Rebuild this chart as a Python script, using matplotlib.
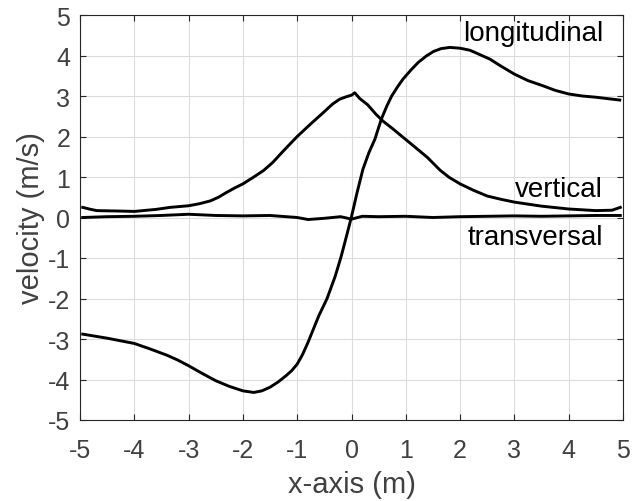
import matplotlib
matplotlib.use("Agg")
import matplotlib.pyplot as plt

plt.rcParams["font.family"] = ["Liberation Sans", "DejaVu Sans"]
plt.rcParams["axes.unicode_minus"] = False

# velocity components along the x-axis (m, m/s)
x_long = [-4.95, -4.5, -4.0, -3.7, -3.4, -3.2, -3.0, -2.75, -2.5, -2.25, -2.0,
          -1.8, -1.65, -1.5, -1.35, -1.2, -1.1, -1.0, -0.9, -0.8, -0.7, -0.6,
          -0.45, -0.3, -0.19, -0.1, 0.0, 0.1, 0.21, 0.32, 0.43, 0.55, 0.65,
          0.74, 0.85, 0.95, 1.1, 1.23, 1.37, 1.51, 1.65, 1.81, 2.0, 2.18,
          2.35, 2.55, 2.75, 3.0, 3.25, 3.53, 3.75, 4.0, 4.25, 4.5, 4.75, 4.94]
v_long = [-2.88, -2.98, -3.11, -3.25, -3.4, -3.52, -3.66, -3.85, -4.03, -4.17,
          -4.28, -4.32, -4.28, -4.19, -4.06, -3.9, -3.78, -3.62, -3.38, -3.08,
          -2.75, -2.42, -2.0, -1.45, -0.96, -0.5, 0.02, 0.6, 1.19, 1.6, 1.93,
          2.43, 2.75, 3.0, 3.23, 3.42, 3.65, 3.83, 3.98, 4.1, 4.17, 4.2, 4.18,
          4.13, 4.03, 3.91, 3.74, 3.54, 3.38, 3.25, 3.14, 3.05, 3.0, 2.97,
          2.93, 2.9]

x_vert = [-4.95, -4.8, -4.69, -4.3, -4.0, -3.6, -3.34, -3.0, -2.8, -2.6,
          -2.45, -2.3, -2.15, -2.0, -1.8, -1.62, -1.45, -1.25, -1.0, -0.76,
          -0.52, -0.35, -0.22, -0.1, 0.0, 0.06, 0.15, 0.3, 0.45, 0.58, 0.77,
          0.95, 1.14, 1.4, 1.63, 1.8, 2.0, 2.25, 2.5, 2.75, 3.0, 3.5, 4.0,
          4.5, 4.8, 4.95]
v_vert = [0.25, 0.2, 0.17, 0.16, 0.15, 0.2, 0.25, 0.29, 0.34, 0.41, 0.5,
          0.62, 0.73, 0.83, 1.0, 1.16, 1.36, 1.65, 2.0, 2.3, 2.59, 2.8, 2.92,
          2.98, 3.02, 3.08, 2.94, 2.78, 2.55, 2.38, 2.18, 1.98, 1.77, 1.48,
          1.17, 0.99, 0.83, 0.67, 0.53, 0.45, 0.38, 0.28, 0.21, 0.17, 0.18,
          0.25]

x_trans = [-4.95, -4.5, -4.0, -3.5, -3.0, -2.5, -2.0, -1.5, -1.0, -0.8, -0.5,
           -0.2, 0.0, 0.2, 0.5, 1.0, 1.5, 2.0, 2.5, 3.0, 3.5, 4.0, 4.5, 4.95]
v_trans = [0.0, 0.02, 0.03, 0.05, 0.08, 0.05, 0.04, 0.05, 0.0, -0.05, -0.02,
           0.02, -0.04, 0.03, 0.02, 0.03, 0.0, 0.02, 0.03, 0.04, 0.03, 0.04,
           0.05, 0.05]

ticks = list(range(-5, 6))
dark = "#262626"
label_grey = "#404040"

fig = plt.figure(figsize=(6.32, 5.02), dpi=100)
ax = fig.add_axes([80 / 632, 81 / 502, 543 / 632, 405 / 502])

for xs, vs in [(x_long, v_long), (x_vert, v_vert), (x_trans, v_trans)]:
    ax.plot(xs, vs, color="black", lw=2.1, solid_joinstyle="round")

ax.text(4.63, 4.55, "longitudinal", ha="right", va="center", fontsize=20)
ax.text(4.63, 0.7, "vertical", ha="right", va="center", fontsize=20)
ax.text(4.63, -0.48, "transversal", ha="right", va="center", fontsize=20)

ax.set_xlim(-5, 5)
ax.set_ylim(-5, 5)
ax.set_xticks(ticks)
ax.set_yticks(ticks)
ax.grid(True, color="#dcdcdc", lw=0.8)
ax.set_axisbelow(True)

ax.tick_params(direction="in", length=4, width=0.8, colors=dark,
               labelcolor=label_grey, labelsize=18, top=True, right=True)
ax.tick_params(axis="x", pad=13)
ax.tick_params(axis="y", pad=7)
for s in ax.spines.values():
    s.set_color(dark)
    s.set_linewidth(0.8)

ax.set_xlabel("x-axis (m)", fontsize=21, color=label_grey, labelpad=6)
ax.set_ylabel("velocity (m/s)", fontsize=21, color=label_grey, labelpad=2)

fig.savefig("out.png", dpi=100)
